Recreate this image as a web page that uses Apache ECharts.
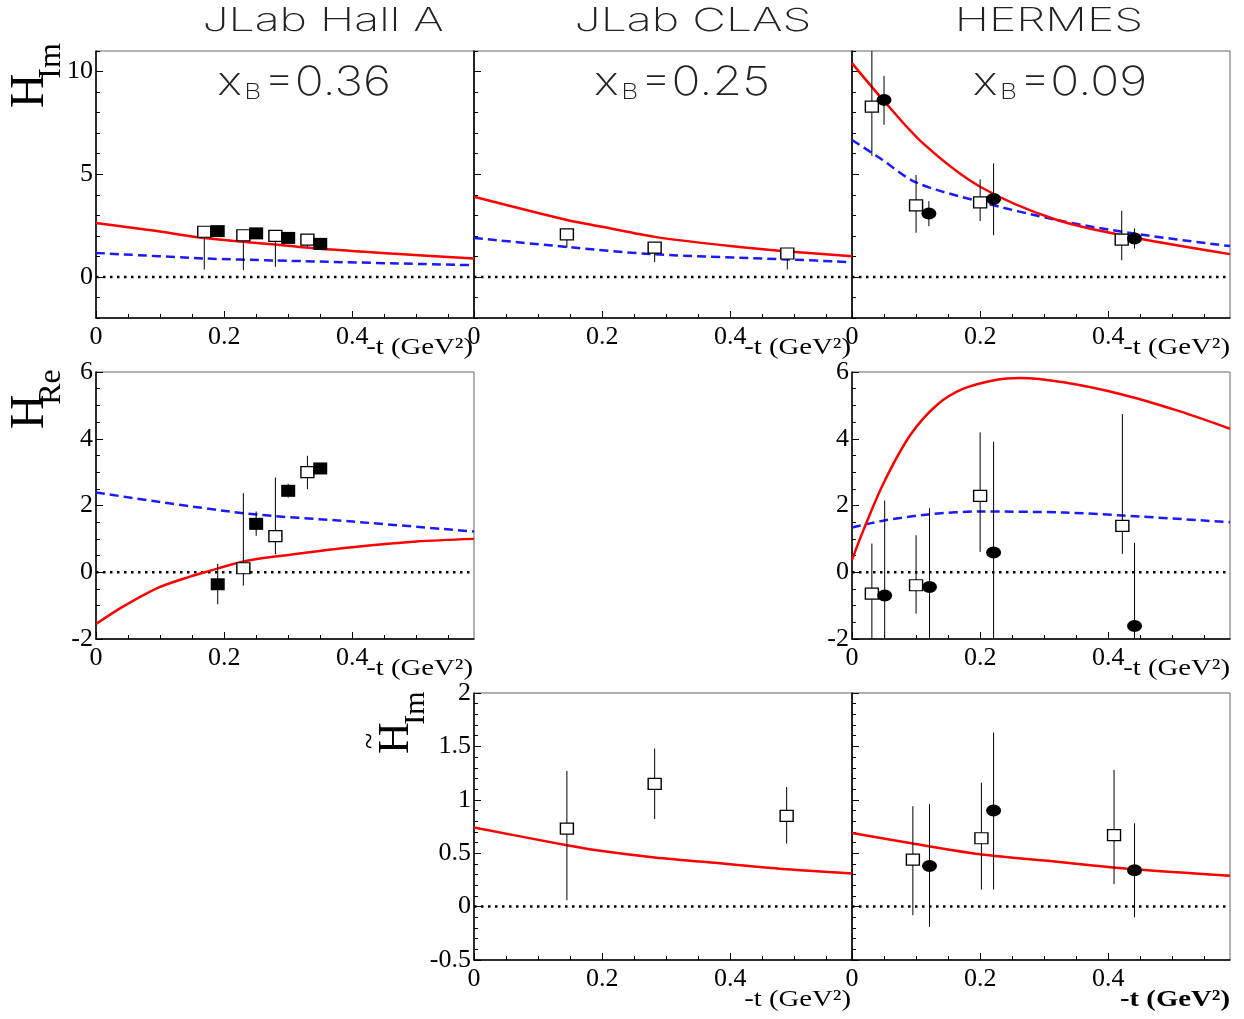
<!DOCTYPE html>
<html><head><meta charset="utf-8">
<script src="https://cdn.jsdelivr.net/npm/echarts@6/dist/echarts.min.js"></script>
<style>html,body{margin:0;padding:0;background:#fff}#c{width:1244px;height:1019px}</style>
</head><body><div id="c"></div>
<script>
// ================= DATA =================
const tMax = 0.59;
const xMinorTicks = [0.05, 0.1, 0.15, 0.25, 0.3, 0.35, 0.45, 0.5, 0.55];
const xLabelVals = [0, 0.2, 0.4];
const yImMinor = [-2, -1, 1, 2, 3, 4, 6, 7, 8, 9, 11];
const yImLabels = [0, 5, 10];
const yReMinor = [-1.5, -1, -0.5, 0.5, 1, 1.5, 2.5, 3, 3.5, 4.5, 5, 5.5];
const yReLabels = [-2, 0, 2, 4, 6];
const yTilMinor = [-0.4, -0.3, -0.2, -0.1, 0.1, 0.2, 0.3, 0.4, 0.6, 0.7, 0.8, 0.9, 1.1, 1.2, 1.3, 1.4, 1.6, 1.7, 1.8, 1.9];
const yTilLabels = [-0.5, 0, 0.5, 1, 1.5, 2];

// Row 1 : H_Im  — JLab Hall A
const hallAImOpenT  = [0.169, 0.23, 0.28, 0.33];
const hallAImOpenV  = [2.2, 2.03, 2.0, 1.82];
const hallAImOpenLo = [0.36, 0.33, 0.49, 1.46];
const hallAImOpenHi = [2.2, 2.03, 2.0, 1.82];
const hallAImFillT  = [0.19, 0.25, 0.30, 0.35];
const hallAImFillV  = [2.23, 2.12, 1.9, 1.61];
const hallAImRedT   = [0, 0.089, 0.169, 0.23, 0.28, 0.35, 0.46, 0.59];
const hallAImRedV   = [2.63, 2.26, 1.89, 1.71, 1.58, 1.37, 1.14, 0.9];
const hallAImBlueT  = [0, 0.169, 0.28, 0.59];
const hallAImBlueV  = [1.17, 0.9, 0.8, 0.57];

// Row 1 : H_Im — JLab CLAS
const clasImOpenT  = [0.145, 0.282, 0.489];
const clasImOpenV  = [2.07, 1.43, 1.14];
const clasImOpenLo = [1.43, 0.73, 0.36];
const clasImOpenHi = [2.07, 1.43, 1.14];
const clasImRedT   = [0, 0.145, 0.2, 0.282, 0.4, 0.49, 0.59];
const clasImRedV   = [3.9, 2.77, 2.44, 1.95, 1.5, 1.24, 1.01];
const clasImBlueT  = [0, 0.145, 0.282, 0.49, 0.59];
const clasImBlueV  = [1.9, 1.46, 1.1, 0.85, 0.72];

// Row 1 : H_Im — HERMES
const hermesImOpenT  = [0.031, 0.1, 0.2, 0.421];
const hermesImOpenV  = [8.29, 3.48, 3.63, 1.82];
const hermesImOpenLo = [5.89, 2.15, 2.72, 0.81];
const hermesImOpenHi = [11.2, 4.96, 4.75, 3.22];
const hermesImFillT  = [0.05, 0.12, 0.221, 0.441];
const hermesImFillV  = [8.62, 3.09, 3.79, 1.87];
const hermesImFillLo = [7.4, 2.47, 2.03, 1.38];
const hermesImFillHi = [9.79, 3.69, 5.53, 2.36];
const hermesImRedT   = [0, 0.044, 0.111, 0.2, 0.32, 0.44, 0.59];
const hermesImRedV   = [10.41, 8.78, 6.5, 4.39, 2.77, 1.92, 1.11];
const hermesImBlueT  = [0, 0.045, 0.1, 0.2, 0.32, 0.44, 0.59];
const hermesImBlueV  = [6.67, 5.75, 4.6, 3.66, 2.77, 2.11, 1.5];

// Row 2 : H_Re — JLab Hall A
const hallAReOpenT  = [0.23, 0.28, 0.33];
const hallAReOpenV  = [0.12, 1.08, 3.0];
const hallAReOpenLo = [-0.4, 0.54, 2.49];
const hallAReOpenHi = [2.37, 2.84, 3.49];
const hallAReFillT  = [0.19, 0.25, 0.30, 0.35];
const hallAReFillV  = [-0.36, 1.45, 2.44, 3.11];
const hallAReFillLo = [-0.96, 1.09, 2.24, 3.11];
const hallAReFillHi = [0.25, 1.82, 2.65, 3.11];
const hallAReRedT   = [0, 0.042, 0.095, 0.147, 0.17, 0.23, 0.28, 0.4, 0.5, 0.59];
const hallAReRedV   = [-1.55, -1.03, -0.48, -0.13, 0.0, 0.32, 0.47, 0.75, 0.92, 1.0];
const hallAReBlueT  = [0, 0.23, 0.4, 0.59];
const hallAReBlueV  = [2.39, 1.77, 1.52, 1.22];

// Row 2 : H_Re — HERMES
const hermesReOpenT  = [0.031, 0.1, 0.2, 0.422];
const hermesReOpenV  = [-0.64, -0.39, 2.29, 1.39];
const hermesReOpenLo = [-2.2, -1.24, 0.61, 0.55];
const hermesReOpenHi = [0.86, 1.11, 4.19, 4.74];
const hermesReFillT  = [0.051, 0.121, 0.221, 0.441];
const hermesReFillV  = [-0.70, -0.44, 0.59, -1.61];
const hermesReFillLo = [-3.5, -2.8, -2.7, -4.0];
const hermesReFillHi = [2.15, 1.92, 3.91, 0.88];
const hermesReRedT   = [0, 0.018, 0.049, 0.091, 0.133, 0.174, 0.226, 0.262, 0.33, 0.423, 0.512, 0.59];
const hermesReRedV   = [0.37, 1.27, 2.66, 4.11, 5.02, 5.5, 5.77, 5.82, 5.69, 5.32, 4.82, 4.3];
const hermesReBlueT  = [0, 0.05, 0.122, 0.2, 0.33, 0.423, 0.59];
const hermesReBlueV  = [1.34, 1.55, 1.74, 1.82, 1.79, 1.7, 1.5];

// Row 3 : H~_Im — JLab CLAS
const clasTilOpenT  = [0.145, 0.282, 0.488];
const clasTilOpenV  = [0.73, 1.15, 0.85];
const clasTilOpenLo = [0.06, 0.82, 0.59];
const clasTilOpenHi = [1.27, 1.48, 1.12];
const clasTilRedT   = [0, 0.145, 0.2, 0.282, 0.395, 0.488, 0.59];
const clasTilRedV   = [0.74, 0.575, 0.52, 0.46, 0.4, 0.35, 0.31];

// Row 3 : H~_Im — HERMES
const hermesTilOpenT  = [0.095, 0.202, 0.409];
const hermesTilOpenV  = [0.44, 0.64, 0.67];
const hermesTilOpenLo = [-0.08, 0.16, 0.21];
const hermesTilOpenHi = [0.94, 1.16, 1.28];
const hermesTilFillT  = [0.121, 0.221, 0.441];
const hermesTilFillV  = [0.38, 0.9, 0.34];
const hermesTilFillLo = [-0.19, 0.16, -0.1];
const hermesTilFillHi = [0.96, 1.63, 0.78];
const hermesTilRedT   = [0, 0.095, 0.2, 0.32, 0.44, 0.59];
const hermesTilRedV   = [0.69, 0.59, 0.49, 0.42, 0.35, 0.29];

// Text
const colTitles = ['JLab Hall A', 'JLab CLAS', 'HERMES'];
const xbValues = ['0.36', '0.25', '0.09'];
const xAxisName = '-t (GeV\u00B2)';

// ================= BUILD =================
const zip = (a, b) => a.map((v, i) => [v, b[i]]);
const zip3 = (a, b, c) => a.map((v, i) => [v, b[i], c[i]]);
const ELLIPSE = 'path://M0,1A1,1,0,1,1,2,1A1,1,0,1,1,0,1Z';

const panels = [
  { left: 96,  top: 51,  yMin: -2,   yMax: 11, ym: yImMinor,  yl: yImLabels,  showY: true },
  { left: 474, top: 51,  yMin: -2,   yMax: 11, ym: yImMinor,  yl: yImLabels,  showY: false },
  { left: 852, top: 51,  yMin: -2,   yMax: 11, ym: yImMinor,  yl: yImLabels,  showY: false },
  { left: 96,  top: 372, yMin: -2,   yMax: 6,  ym: yReMinor,  yl: yReLabels,  showY: true },
  { left: 852, top: 372, yMin: -2,   yMax: 6,  ym: yReMinor,  yl: yReLabels,  showY: true },
  { left: 474, top: 693, yMin: -0.5, yMax: 2,  ym: yTilMinor, yl: yTilLabels, showY: true },
  { left: 852, top: 693, yMin: -0.5, yMax: 2,  ym: yTilMinor, yl: yTilLabels, showY: false }
];
const W = 378, H = 267;
const labelFont = { fontFamily: 'Liberation Serif', fontSize: 26, color: '#000' };
const fmt = v => String(+(+v).toFixed(2));

const grid = panels.map(p => ({
  left: p.left, top: p.top, width: W, height: H,
  show: true, borderColor: '#666', borderWidth: 1, backgroundColor: 'transparent',
  containLabel: false, outerBoundsMode: 'none'
}));
const xAxis = [], yAxis = [];
panels.forEach((p, i) => {
  xAxis.push({
    type: 'value', gridIndex: i, min: 0, max: tMax, position: 'bottom',
    axisLine: { show: true, onZero: false, lineStyle: { color: '#000', width: 1.5 } },
    axisTick: { show: true, inside: true, length: 7, customValues: xLabelVals, lineStyle: { color: '#000', width: 1 } },
    axisLabel: Object.assign({ show: true, margin: 6, customValues: xLabelVals, formatter: fmt }, labelFont),
    splitLine: { show: false }
  });
  yAxis.push({
    type: 'value', gridIndex: i, min: p.yMin, max: p.yMax, position: 'left',
    axisLine: { show: true, onZero: false, lineStyle: { color: '#000', width: 1.5 } },
    axisTick: { show: true, inside: true, length: 7, customValues: p.yl, lineStyle: { color: '#000', width: 1 } },
    axisLabel: Object.assign({ show: p.showY, margin: 3, customValues: p.yl, formatter: fmt }, labelFont),
    splitLine: { show: false }
  });
});
// minor-tick axes
panels.forEach((p, i) => {
  xAxis.push({
    type: 'value', gridIndex: i, min: 0, max: tMax, position: 'bottom',
    axisLine: { show: false, onZero: false }, axisLabel: { show: false }, splitLine: { show: false },
    axisTick: { show: true, inside: true, length: 4, customValues: xMinorTicks, lineStyle: { color: '#000', width: 1 } }
  });
  yAxis.push({
    type: 'value', gridIndex: i, min: p.yMin, max: p.yMax, position: 'left',
    axisLine: { show: false, onZero: false }, axisLabel: { show: false }, splitLine: { show: false },
    axisTick: { show: true, inside: true, length: 4, customValues: p.ym, lineStyle: { color: '#000', width: 1 } }
  });
});

const series = [];
function curve(i, t, v, color, dashed) {
  series.push({
    type: 'line', xAxisIndex: i, yAxisIndex: i, data: zip(t, v), showSymbol: false, symbol: 'none',
    smooth: 0.3, silent: true, z: 3,
    lineStyle: { color: color, width: 2.5, type: dashed ? [9, 5] : 'solid' }
  });
}
function zeroLine(i) {
  series.push({
    type: 'line', xAxisIndex: i, yAxisIndex: i, data: [[0, 0], [tMax, 0]], showSymbol: false, symbol: 'none',
    silent: true, z: 2, lineStyle: { color: '#000', width: 2.5, type: [2.5, 4.5] }
  });
}
function errBars(i, t, lo, hi) {
  series.push({
    type: 'custom', xAxisIndex: i, yAxisIndex: i, data: zip3(t, lo, hi), silent: true, z: 4,
    encode: { x: 0, y: [1, 2] },
    renderItem: function (params, api) {
      const x = api.value(0);
      const a = api.coord([x, api.value(1)]);
      const b = api.coord([x, api.value(2)]);
      const cs = params.coordSys;
      const clamp = y => Math.max(cs.y, Math.min(cs.y + cs.height, y));
      return { type: 'line', shape: { x1: a[0], y1: clamp(a[1]), x2: b[0], y2: clamp(b[1]) },
               style: { stroke: '#000', lineWidth: 1 } };
    }
  });
}
function markers(i, t, v, kind) {
  const base = { type: 'scatter', xAxisIndex: i, yAxisIndex: i, data: zip(t, v), silent: true, z: 5 };
  if (kind === 'open') Object.assign(base, { symbol: 'rect', symbolSize: [13, 11], itemStyle: { color: '#fff', borderColor: '#000', borderWidth: 1.3, opacity: 1 } });
  if (kind === 'fsq') Object.assign(base, { symbol: 'rect', symbolSize: [14, 12], itemStyle: { color: '#000', opacity: 1 }, z: 6 });
  if (kind === 'circ') Object.assign(base, { symbol: ELLIPSE, symbolSize: [15, 12], itemStyle: { color: '#000', opacity: 1 }, z: 6 });
  series.push(base);
}
const RED = '#ff0000', BLUE = '#1a1aff';

zeroLine(0); curve(0, hallAImBlueT, hallAImBlueV, BLUE, true); curve(0, hallAImRedT, hallAImRedV, RED, false);
errBars(0, hallAImOpenT, hallAImOpenLo, hallAImOpenHi);
markers(0, hallAImOpenT, hallAImOpenV, 'open'); markers(0, hallAImFillT, hallAImFillV, 'fsq');

zeroLine(1); curve(1, clasImBlueT, clasImBlueV, BLUE, true); curve(1, clasImRedT, clasImRedV, RED, false);
errBars(1, clasImOpenT, clasImOpenLo, clasImOpenHi); markers(1, clasImOpenT, clasImOpenV, 'open');

zeroLine(2); curve(2, hermesImBlueT, hermesImBlueV, BLUE, true); curve(2, hermesImRedT, hermesImRedV, RED, false);
errBars(2, hermesImOpenT, hermesImOpenLo, hermesImOpenHi); errBars(2, hermesImFillT, hermesImFillLo, hermesImFillHi);
markers(2, hermesImOpenT, hermesImOpenV, 'open'); markers(2, hermesImFillT, hermesImFillV, 'circ');

zeroLine(3); curve(3, hallAReBlueT, hallAReBlueV, BLUE, true); curve(3, hallAReRedT, hallAReRedV, RED, false);
errBars(3, hallAReOpenT, hallAReOpenLo, hallAReOpenHi); errBars(3, hallAReFillT, hallAReFillLo, hallAReFillHi);
markers(3, hallAReOpenT, hallAReOpenV, 'open'); markers(3, hallAReFillT, hallAReFillV, 'fsq');

zeroLine(4); curve(4, hermesReBlueT, hermesReBlueV, BLUE, true); curve(4, hermesReRedT, hermesReRedV, RED, false);
errBars(4, hermesReOpenT, hermesReOpenLo, hermesReOpenHi); errBars(4, hermesReFillT, hermesReFillLo, hermesReFillHi);
markers(4, hermesReOpenT, hermesReOpenV, 'open'); markers(4, hermesReFillT, hermesReFillV, 'circ');

zeroLine(5); curve(5, clasTilRedT, clasTilRedV, RED, false);
errBars(5, clasTilOpenT, clasTilOpenLo, clasTilOpenHi); markers(5, clasTilOpenT, clasTilOpenV, 'open');

zeroLine(6); curve(6, hermesTilRedT, hermesTilRedV, RED, false);
errBars(6, hermesTilOpenT, hermesTilOpenLo, hermesTilOpenHi); errBars(6, hermesTilFillT, hermesTilFillLo, hermesTilFillHi);
markers(6, hermesTilOpenT, hermesTilOpenV, 'open'); markers(6, hermesTilFillT, hermesTilFillV, 'circ');

// ---- graphic texts ----
const thin = { fontFamily: 'Inter, Roboto, sans-serif', fontWeight: 200 };
const serif = 'Liberation Serif';
const graphic = [];
const titleX = [323, 693, 1049];
const xbX = [304, 682, 1060];
colTitles.forEach((s, i) => graphic.push({
  type: 'text', x: titleX[i], y: 21, scaleX: 1.45, silent: true,
  style: Object.assign({ text: s, fontSize: 32, fill: '#222', align: 'center', verticalAlign: 'middle' }, thin)
}));
xbValues.forEach((s, i) => graphic.push({
  type: 'text', x: xbX[i], y: 83, scaleX: 1.2, silent: true,
  style: {
    text: '{m|x}{s|B}{m|=' + s + '}', align: 'center', verticalAlign: 'middle', fill: '#222',
    rich: {
      m: Object.assign({ fontSize: 40, verticalAlign: 'bottom', fill: '#222' }, thin),
      s: Object.assign({ fontSize: 22, verticalAlign: 'bottom', fill: '#222', padding: [0, 2, 0, 2] }, thin)
    }
  }
}));
[[473, 348, false], [851, 348, false], [1230, 348, false], [473, 669, false], [1230, 669, false], [851, 1000, false], [1230, 1000, true]]
  .forEach(a => graphic.push({
    type: 'text', x: a[0], y: a[1], scaleX: 1.25, silent: true,
    style: { text: xAxisName, fontFamily: serif, fontSize: 23, fontWeight: a[2] ? 'bold' : 'normal', fill: '#000', align: 'right', verticalAlign: 'middle' }
  }));
function yTitle(hx, hy, hs, sx, sy, ss, sub, tilde) {
  graphic.push({ type: 'text', x: hx, y: hy, rotation: Math.PI / 2, silent: true,
    style: { text: 'H', fontFamily: serif, fontSize: hs, fill: '#000', align: 'center', verticalAlign: 'middle' } });
  graphic.push({ type: 'text', x: sx, y: sy, rotation: Math.PI / 2, silent: true,
    style: { text: sub, fontFamily: serif, fontSize: ss, fill: '#000', align: 'center', verticalAlign: 'middle' } });
  if (tilde) graphic.push({ type: 'text', x: tilde[0], y: tilde[1], rotation: Math.PI / 2, silent: true,
    style: { text: '~', fontFamily: serif, fontSize: 30, fill: '#000', align: 'center', verticalAlign: 'middle' } });
}
yTitle(30, 91, 48, 52, 61, 32, 'Im');
yTitle(30, 412, 48, 52, 387, 32, 'Re');
yTitle(396, 738, 44, 416, 708, 30, 'Im', [371, 741]);

const chart = echarts.init(document.getElementById('c'), null, { renderer: 'canvas' });
chart.setOption({ animation: false, backgroundColor: '#fff', grid, xAxis, yAxis, series, graphic });
</script></body></html>
